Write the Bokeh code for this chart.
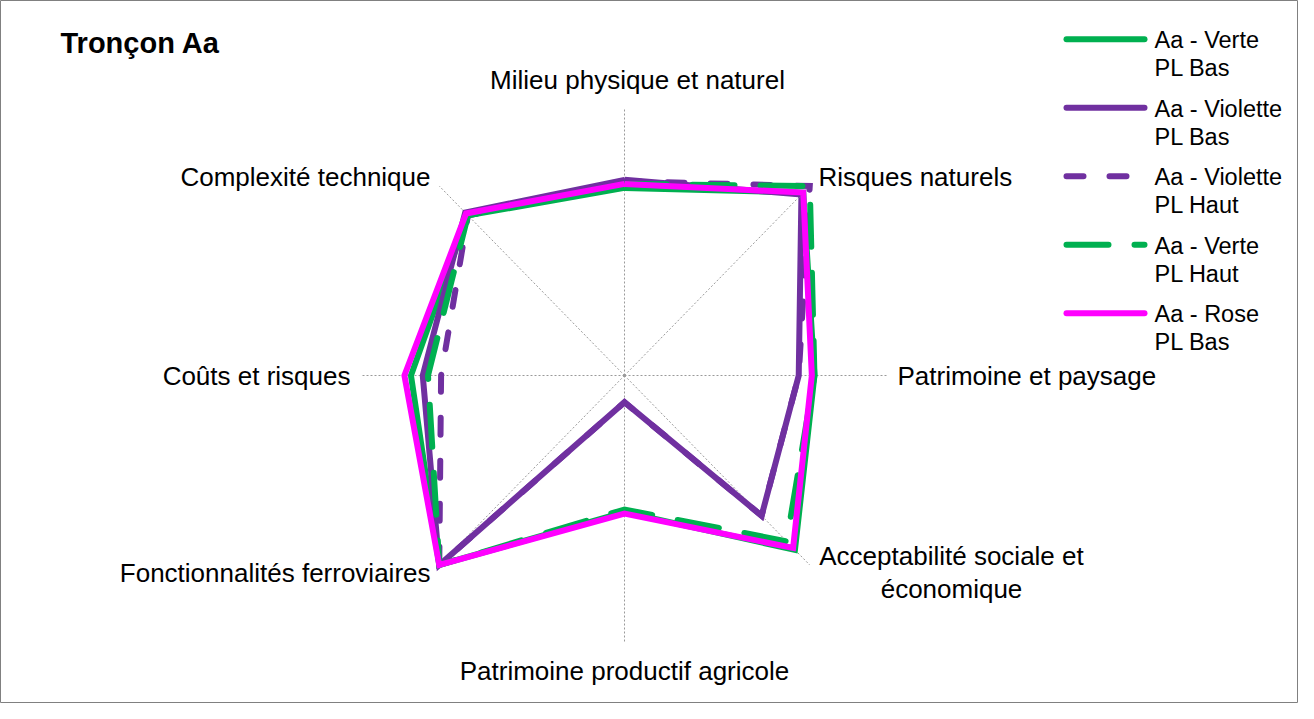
import math
from bokeh.plotting import figure
from bokeh.models import Range1d, Label
from bokeh.embed import file_html
from bokeh.resources import INLINE

# ---------------- data ----------------
categories = [
    "Milieu physique et naturel",
    "Risques naturels",
    "Patrimoine et paysage",
    "Acceptabilité sociale et économique",
    "Patrimoine productif agricole",
    "Fonctionnalités ferroviaires",
    "Coûts et risques",
    "Complexité technique",
]
series_names = [
    "Aa - Verte\nPL Bas",
    "Aa - Violette\nPL Bas",
    "Aa - Violette\nPL Haut",
    "Aa  - Verte\nPL Haut",
    "Aa - Rose\nPL Bas",
]
verte_bas = [0.70, 0.965, 0.725, 0.92, 0.51, 1.0, 0.815, 0.845]
violette_bas = [0.73, 0.955, 0.665, 0.74, 0.10, 1.0, 0.77, 0.86]
violette_haut = [0.725, 1.0, 0.665, 0.74, 0.10, 1.0, 0.70, 0.845]
verte_haut = [0.715, 1.0, 0.725, 0.875, 0.50, 1.0, 0.75, 0.845]
rose_bas = [0.715, 0.965, 0.715, 0.91, 0.515, 1.0, 0.84, 0.855]
series_values = [verte_bas, violette_bas, violette_haut, verte_haut, rose_bas]
axis_max = 1.0

# ---------------- styles ----------------
GREEN = "#00B050"
PURPLE = "#7030A0"
PINK = "#FF00FF"
colors = [GREEN, PURPLE, PURPLE, GREEN, PINK]
dashes = ["solid", "solid", "17 26", "42 26", "solid"]
LW = 6
FONT = "Liberation Sans"
FS_AX = "26px"
FS_LEG = "23.5px"

W, H = 1298, 703
CX, CY = 632, 383          # page px of radar centre
SX, SY = 262.0, 268.0      # px per unit
def px(xp):
    return (xp - CX) / SX
def py(yp):
    return (CY - yp) / SY

p = figure(width=W, height=H, output_backend="svg", toolbar_location=None,
           x_range=Range1d(px(8), px(8 + W)), y_range=Range1d(py(8 + H), py(8)),
           min_border=0, x_axis_type=None, y_axis_type=None)
p.grid.visible = False
p.outline_line_color = "#808080"
p.outline_line_width = 1
p.background_fill_color = "white"
p.border_fill_color = "white"

n = len(categories)
angles = [2 * math.pi * k / n for k in range(n)]

# spokes
p.segment(x0=[0.0] * n, y0=[0.0] * n,
          x1=[axis_max * math.sin(a) for a in angles],
          y1=[axis_max * math.cos(a) for a in angles],
          line_color="#9a9a9a", line_width=1, line_dash="2 2")

# series
for vals, col, dash in zip(series_values, colors, dashes):
    xs = [v * math.sin(a) for v, a in zip(vals, angles)]
    ys = [v * math.cos(a) for v, a in zip(vals, angles)]
    xs.append(xs[0]); ys.append(ys[0])
    p.line(xs, ys, line_color=col, line_width=LW, line_dash=dash,
           line_cap="round" if dash != "solid" else "butt", line_join="miter")

def lab(text, xp, yp, align="left", size=FS_AX, bold=False):
    p.add_layout(Label(x=px(xp), y=py(yp), text=text, text_font=FONT,
                       text_font_size=size, text_align=align,
                       text_baseline="middle", text_color="black",
                       text_font_style="bold" if bold else "normal"))

# axis labels
lab(categories[0], 645, 87, "center")
lab(categories[1], 826, 184, "left")
lab(categories[2], 905, 383, "left")
lab("Acceptabilité sociale et", 959, 563, "center")
lab("économique", 959, 596, "center")
lab(categories[4], 632, 678, "center")
lab(categories[5], 438, 580, "right")
lab(categories[6], 358, 383, "right")
lab(categories[7], 438, 184, "right")

# title
lab("Tronçon Aa", 68, 50, "left", size="29px", bold=True)

# legend
leg_y0, leg_step = 46.7, 68.5
for i, (name, col, dash) in enumerate(zip(series_names, colors, dashes)):
    yy = leg_y0 + i * leg_step
    p.line([px(1074), px(1152)], [py(yy), py(yy)], line_color=col, line_width=LW,
           line_dash=dash, line_cap="round")
    l1, l2 = name.split("\n")
    lab(l1, 1162, yy + 1, "left", size=FS_LEG)
    lab(l2, 1162, yy + 29, "left", size=FS_LEG)

open("out.html", "w").write(file_html(p, INLINE))
